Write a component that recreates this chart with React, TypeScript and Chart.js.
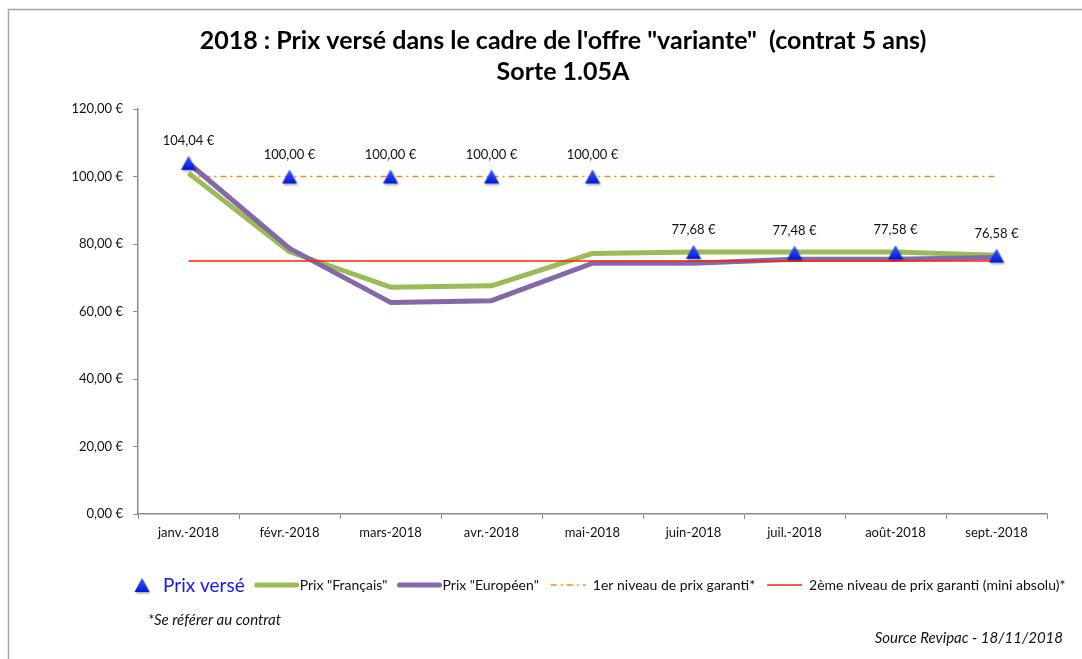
import React, { useEffect, useRef } from "react";
import { Chart, registerables } from "chart.js";

Chart.register(...registerables);

const categories = [
  "janv.-2018",
  "févr.-2018",
  "mars-2018",
  "avr.-2018",
  "mai-2018",
  "juin-2018",
  "juil.-2018",
  "août-2018",
  "sept.-2018",
];
const prixVerse = [104.04, 100.0, 100.0, 100.0, 100.0, 77.68, 77.48, 77.58, 76.58];
const prixFrancais = [101.0, 77.7, 67.2, 67.6, 77.2, 77.6, 77.6, 77.6, 76.7];
const prixEuropeen = [104.0, 78.7, 62.7, 63.2, 74.3, 74.3, 75.5, 75.5, 76.0];
const niveau1 = [100, 100, 100, 100, 100, 100, 100, 100, 100];
const niveau2 = [75, 75, 75, 75, 75, 75, 75, 75, 75];
const yMin = 0;
const yMax = 120;
const yStep = 20;

const titleLines = [
  "2018 : Prix versé dans le cadre de l'offre \"variante\"  (contrat 5 ans)",
  "Sorte 1.05A",
];
const legendLabels = [
  "Prix versé",
  'Prix "Français"',
  'Prix "Européen"',
  "1er niveau de prix garanti*",
  "2ème niveau de prix garanti (mini absolu)*",
];
const noteText = "*Se référer au contrat";
const sourceText = "Source Revipac - 18/11/2018";

const FONT = 'Lato, "Open Sans", sans-serif';
const GREEN = "#9BBB59";
const PURPLE = "#8468A8";
const ORANGE = "#FF8A00";
const RED = "#FF2200";
const BLUE = "#0A2BF5";
const AXIS = "#8c8c8c";

const fmt = (v: number) => v.toFixed(2).replace(".", ",") + " €";

function makeMarker(): HTMLCanvasElement {
  const c = document.createElement("canvas");
  c.width = 20;
  c.height = 20;
  const g = c.getContext("2d")!;
  g.shadowColor = "rgba(0,0,0,0.35)";
  g.shadowBlur = 2;
  g.shadowOffsetX = 1;
  g.shadowOffsetY = 1.5;
  const grad = g.createLinearGradient(0, 3, 0, 17);
  grad.addColorStop(0, "#3c5cff");
  grad.addColorStop(1, "#0018d8");
  g.fillStyle = grad;
  g.beginPath();
  g.moveTo(10, 3);
  g.lineTo(17.5, 17);
  g.lineTo(2.5, 17);
  g.closePath();
  g.fill();
  return c;
}

export default function App() {
  const ref = useRef<HTMLCanvasElement | null>(null);

  useEffect(() => {
    const canvas = ref.current!;
    const marker = makeMarker();

    const framePlugin = {
      id: "frame",
      beforeDraw(chart: any) {
        const ctx = chart.ctx;
        ctx.save();
        ctx.fillStyle = "#ffffff";
        ctx.fillRect(0, 0, chart.width, chart.height);
        ctx.strokeStyle = "#a6a6a6";
        ctx.lineWidth = 1.5;
        ctx.strokeRect(8.5, 9.5, 3000, 3000);
        ctx.restore();
      },
      afterDatasetsDraw(chart: any) {
        const ctx = chart.ctx;
        const meta = chart.getDatasetMeta(0);
        ctx.save();
        ctx.font = `13px ${FONT}`;
        ctx.fillStyle = "#111";
        ctx.textAlign = "center";
        ctx.textBaseline = "middle";
        meta.data.forEach((pt: any, i: number) => {
          ctx.fillText(fmt(prixVerse[i]), pt.x, pt.y - 22);
        });
        ctx.restore();
      },
      afterDraw(chart: any) {
        const ctx = chart.ctx;
        ctx.save();
        // title
        ctx.fillStyle = "#000";
        ctx.textAlign = "center";
        ctx.textBaseline = "middle";
        ctx.font = `bold 25px ${FONT}`;
        ctx.fillText(titleLines[0], 563, 41);
        ctx.fillText(titleLines[1], 563, 72);

        // legend
        const ly = 585;
        ctx.drawImage(marker, 142 - 10, ly - 10);
        let x = 163;
        ctx.textAlign = "left";
        ctx.font = `19px ${FONT}`;
        ctx.fillStyle = "#1515ff";
        ctx.fillText(legendLabels[0], x, ly + 1);
        x += ctx.measureText(legendLabels[0]).width + 12;
        const items = [
          { label: legendLabels[1], color: GREEN, width: 5, dash: [] as number[], len: 40, gap: 3 },
          { label: legendLabels[2], color: PURPLE, width: 5, dash: [] as number[], len: 40, gap: 3 },
          { label: legendLabels[3], color: ORANGE, width: 1.5, dash: [6, 4, 2, 4], len: 35, gap: 7 },
          { label: legendLabels[4], color: RED, width: 1.5, dash: [] as number[], len: 35, gap: 7 },
        ];
        ctx.font = `14px ${FONT}`;
        items.forEach((it) => {
          ctx.beginPath();
          ctx.setLineDash(it.dash);
          ctx.strokeStyle = it.color;
          ctx.lineWidth = it.width;
          ctx.lineCap = it.width > 2 ? "round" : "butt";
          ctx.moveTo(x, ly);
          ctx.lineTo(x + it.len, ly);
          ctx.stroke();
          ctx.setLineDash([]);
          x += it.len + it.gap;
          ctx.fillStyle = "#111";
          ctx.fillText(it.label, x, ly);
          x += ctx.measureText(it.label).width + 12;
        });

        // notes
        ctx.font = `italic 15px ${FONT}`;
        ctx.fillStyle = "#111";
        ctx.textAlign = "left";
        ctx.fillText(noteText, 148, 620);
        ctx.textAlign = "right";
        ctx.fillText(sourceText, 1063, 638);
        ctx.restore();
      },
    };

    const lineCommon = {
      pointRadius: 0,
      pointHoverRadius: 0,
      tension: 0,
      fill: false,
    };

    const chart = new Chart(canvas, {
      type: "line",
      data: {
        labels: categories,
        datasets: [
          {
            label: legendLabels[0],
            data: prixVerse,
            showLine: false,
            pointStyle: marker as any,
            pointRadius: 10,
            pointHoverRadius: 10,
            borderColor: BLUE,
            backgroundColor: BLUE,
            order: 0,
          },
          {
            ...lineCommon,
            label: legendLabels[4],
            data: niveau2,
            borderColor: RED,
            borderWidth: 1.5,
            order: 1,
          },
          {
            ...lineCommon,
            label: legendLabels[2],
            data: prixEuropeen,
            borderColor: PURPLE,
            borderWidth: 5,
            borderJoinStyle: "round",
            order: 2,
          },
          {
            ...lineCommon,
            label: legendLabels[1],
            data: prixFrancais,
            borderColor: GREEN,
            borderWidth: 5,
            borderJoinStyle: "round",
            order: 3,
          },
          {
            ...lineCommon,
            label: legendLabels[3],
            data: niveau1,
            borderColor: ORANGE,
            borderWidth: 1.5,
            borderDash: [6, 4, 2, 4],
            order: 4,
          },
        ],
      },
      options: {
        responsive: false,
        animation: false,
        events: [],
        layout: { padding: { left: 0, top: 109, right: 35, bottom: 115 } },
        plugins: {
          legend: { display: false },
          title: { display: false },
          tooltip: { enabled: false },
        },
        scales: {
          x: {
            offset: true,
            grid: {
              offset: true,
              drawOnChartArea: false,
              drawTicks: true,
              tickLength: 5,
              color: AXIS,
            },
            border: { display: true, color: AXIS, width: 1.5 },
            ticks: {
              color: "#111",
              font: { family: FONT, size: 13 },
              padding: 6,
              maxRotation: 0,
              autoSkip: false,
            },
            afterFit(scale: any) {
              scale.height = 30;
            },
          },
          y: {
            min: yMin,
            max: yMax,
            grid: {
              drawOnChartArea: false,
              drawTicks: true,
              tickLength: 5,
              color: AXIS,
            },
            border: { display: true, color: AXIS, width: 1.5 },
            ticks: {
              stepSize: yStep,
              color: "#111",
              font: { family: FONT, size: 13 },
              padding: 10,
              callback: (v: any) => fmt(Number(v)),
            },
            afterFit(scale: any) {
              scale.width = 138;
            },
          },
        },
      },
      plugins: [framePlugin],
    });

    return () => chart.destroy();
  }, []);

  return (
    <div style={{ position: "absolute", left: 0, top: 0, width: 1082, height: 659 }}>
      <canvas ref={ref} width={1082} height={659} style={{ display: "block" }} />
    </div>
  );
}
